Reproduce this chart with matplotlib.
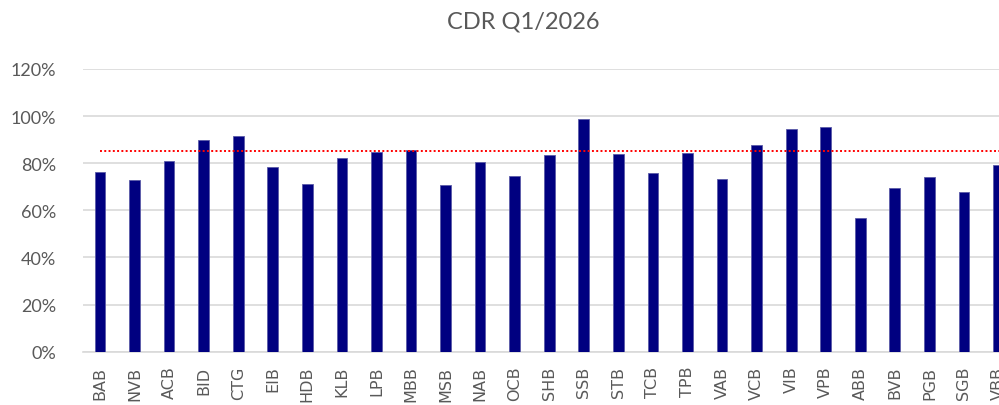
import matplotlib
matplotlib.use("Agg")
import matplotlib.pyplot as plt
from matplotlib.ticker import PercentFormatter

banks = ["BAB", "NVB", "ACB", "BID", "CTG", "EIB", "HDB", "KLB", "LPB", "MBB",
         "MSB", "NAB", "OCB", "SHB", "SSB", "STB", "TCB", "TPB", "VAB", "VCB",
         "VIB", "VPB", "ABB", "BVB", "PGB", "SGB", "VBB"]
cdr = [76.1, 72.7, 80.9, 89.9, 91.7, 78.5, 71.0, 82.2, 84.6, 85.6,
       70.6, 80.5, 74.4, 83.3, 98.6, 83.9, 75.8, 84.3, 73.3, 87.6,
       94.4, 95.5, 56.6, 69.5, 74.2, 67.9, 79.2]
threshold = 85.0
yticks = [0, 20, 40, 60, 80, 100, 120]

fig = plt.figure(figsize=(9.99, 4.06), dpi=100)
ax = fig.add_axes([82.7/999, 53.3/406, (1015.8-82.7)/999, (352.7-70)/406])

x = list(range(len(banks)))
ax.bar(x, cdr, width=0.31, color="#000080", edgecolor="#5a5aa8", linewidth=0.6, zorder=3)
ax.plot([x[0], x[-1]], [threshold, threshold], color="#ff0000", linestyle=(0, (1, 1.2)),
        linewidth=1.4, zorder=4)

ax.set_xlim(-0.5, len(banks) - 0.5)
ax.set_ylim(0, 120)
ax.set_yticks(yticks)
ax.yaxis.set_major_formatter(PercentFormatter(decimals=0))
ax.set_xticks(x)
ax.set_xticklabels(banks, rotation=90)
ax.grid(axis="y", color="#d9d9d9", linewidth=1.2, zorder=0)
for s in ["top", "right", "left"]:
    ax.spines[s].set_visible(False)
ax.spines["bottom"].set_color("#d9d9d9")
ax.spines["bottom"].set_linewidth(1.2)
ax.tick_params(axis="both", length=0, colors="#595959")
ax.tick_params(axis="y", pad=19, labelsize=13)
ax.tick_params(axis="x", pad=10, labelsize=11.5)
for lab in ax.get_yticklabels():
    lab.set_fontfamily("Lato")
for lab in ax.get_xticklabels():
    lab.set_fontfamily("DejaVu Sans")

fig.text(523/999, 1 - 22/406, "CDR Q1/2026", ha="center", va="center",
         fontsize=17, color="#595959", family="Lato")

fig.savefig("out.png", dpi=100)
